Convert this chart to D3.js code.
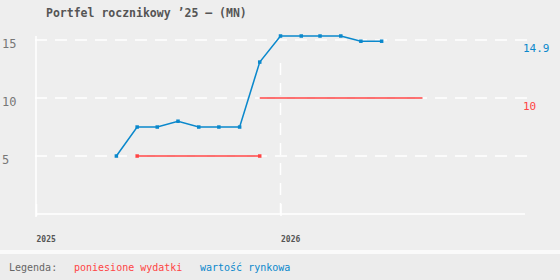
<!DOCTYPE html>
<html>
<head>
<meta charset="utf-8">
<script src="https://cdn.jsdelivr.net/npm/d3@7"></script>
<style>
  html, body { margin: 0; padding: 0; background: #eeeeee; }
  svg { display: block; font-family: "DejaVu Sans Mono", monospace; }
</style>
</head>
<body>
<div id="chart"></div>
<script>
// data
const wartoscDaty = ["2025-05", "2025-06", "2025-07", "2025-08", "2025-09", "2025-10", "2025-11",
  "2025-12", "2026-01", "2026-02", "2026-03", "2026-04", "2026-05", "2026-06"];
const wartoscRynkowa = [5, 7.5, 7.5, 8, 7.5, 7.5, 7.5, 13.1, 15.35, 15.35, 15.35, 15.35, 14.9, 14.9];

// expenses: flat segments
const wydatkiOd = ["2025-06", "2025-12"];
const wydatkiDo = ["2025-12", "2026-08"];
const wydatkiWartosc = [5, 10];
const wydatkiZnaczniki = [true, false];

const lata = [2025, 2026];
const yTicks = [5, 10, 15];

const W = 560, H = 280;
const blue = "#0a88cc", red = "#ff4444";
const parse = d3.timeParse("%Y-%m");

const svg = d3.select("#chart").append("svg")
  .attr("width", W).attr("height", H);

svg.append("rect").attr("width", W).attr("height", H).attr("fill", "#eeeeee");

// title
svg.append("text")
  .attr("x", 46).attr("y", 16.5)
  .attr("font-size", 11.5).attr("font-weight", "bold")
  .attr("fill", "#555")
  .text("Portfel rocznikowy ’25 – (MN)");

//scales
const x = d3.scaleTime()
  .domain([new Date(2025, 0, 1), new Date(2027, 0, 1)])
  .range([36, 525]);
const y = d3.scaleLinear()
  .domain([0, d3.max(wartoscRynkowa)])
  .range([214, 36]);

// grid
svg.selectAll(".hgrid").data(yTicks).enter().append("line")
  .attr("x1", 35).attr("x2", 527)
  .attr("y1", d => y(d)).attr("y2", d => y(d))
  .attr("stroke", "#fff").attr("stroke-width", 1.5)
  .attr("stroke-dasharray", "12,8");

svg.selectAll(".vgrid").data(lata.slice(1)).enter().append("line")
  .attr("x1", d => x(new Date(d, 0, 1))).attr("x2", d => x(new Date(d, 0, 1)))
  .attr("y1", 63).attr("y2", 214)
  .attr("stroke", "#fff").attr("stroke-width", 1.5)
  .attr("stroke-dasharray", "12,8");

// y axis
svg.append("line")
  .attr("x1", 36).attr("x2", 36).attr("y1", 36).attr("y2", 217)
  .attr("stroke", "#fff").attr("stroke-width", 1.5);
svg.selectAll(".ylab").data(yTicks).enter().append("text")
  .attr("x", 2).attr("y", d => y(d) + 8)
  .attr("font-size", 12).attr("fill", "#777")
  .text(d => d);

// x axis
const xAxis = svg.append("g")
  .attr("transform", "translate(0,214)")
  .call(d3.axisBottom(x)
    .tickValues(lata.map(l => new Date(l, 0, 1)))
    .tickSize(-10)
    .tickFormat(d3.timeFormat("%Y")));
xAxis.select(".domain").attr("stroke", "#fff").attr("stroke-width", 1.5)
  .attr("d", "M36,0H525");
xAxis.selectAll(".tick line").attr("stroke", "#fff").attr("stroke-width", 1.5).attr("y2", 2).attr("y1", -10);
xAxis.selectAll(".tick text")
  .attr("y", 28).attr("dy", 0)
  .attr("text-anchor", "start")
  .attr("font-family", "DejaVu Sans Mono, monospace")
  .attr("font-size", 8).attr("font-weight", "bold")
  .attr("fill", "#555");

// expenses
wydatkiWartosc.forEach((v, i) => {
  const pts = [[parse(wydatkiOd[i]), v], [parse(wydatkiDo[i]), v]];
  svg.append("path")
    .attr("d", d3.line().x(d => x(d[0])).y(d => y(d[1]))(pts))
    .attr("fill", "none").attr("stroke", red).attr("stroke-width", 1.5);
  if (wydatkiZnaczniki[i]) {
    svg.selectAll(null).data(pts).enter().append("rect")
      .attr("x", d => x(d[0]) - 1.75).attr("y", d => y(d[1]) - 1.75)
      .attr("width", 3.5).attr("height", 3.5).attr("fill", red);
  }
});

// market value
const blueData = wartoscDaty.map((d, i) => [parse(d), wartoscRynkowa[i]]);
svg.append("path")
  .attr("d", d3.line().x(d => x(d[0])).y(d => y(d[1]))(blueData))
  .attr("fill", "none").attr("stroke", blue).attr("stroke-width", 1.5);
svg.selectAll(".bpt").data(blueData).enter().append("rect")
  .attr("x", d => x(d[0]) - 1.75).attr("y", d => y(d[1]) - 1.75)
  .attr("width", 3.5).attr("height", 3.5).attr("fill", blue);

// end labels
svg.append("text")
  .attr("x", 523).attr("y", y(wartoscRynkowa[wartoscRynkowa.length - 1]) + 11)
  .attr("font-size", 11).attr("fill", blue)
  .text(d3.format(".1f")(wartoscRynkowa[wartoscRynkowa.length - 1]));
svg.append("text")
  .attr("x", 523).attr("y", y(wydatkiWartosc[wydatkiWartosc.length - 1]) + 11.5)
  .attr("font-size", 11).attr("fill", red)
  .text(wydatkiWartosc[wydatkiWartosc.length - 1]);

// legend
svg.append("rect").attr("x", 0).attr("y", 250).attr("width", W).attr("height", 4).attr("fill", "#fafafa");
svg.append("rect").attr("x", 0).attr("y", 254).attr("width", W).attr("height", H - 254).attr("fill", "#ececec");
const legenda = [
  { t: "Legenda:", x: 9, c: "#666" },
  { t: "poniesione wydatki", x: 74, c: red },
  { t: "wartość rynkowa", x: 200, c: blue }
];
svg.selectAll(".leg").data(legenda).enter().append("text")
  .attr("x", d => d.x).attr("y", 270.5)
  .attr("font-size", 10).attr("fill", d => d.c)
  .text(d => d.t);
</script>
</body>
</html>
